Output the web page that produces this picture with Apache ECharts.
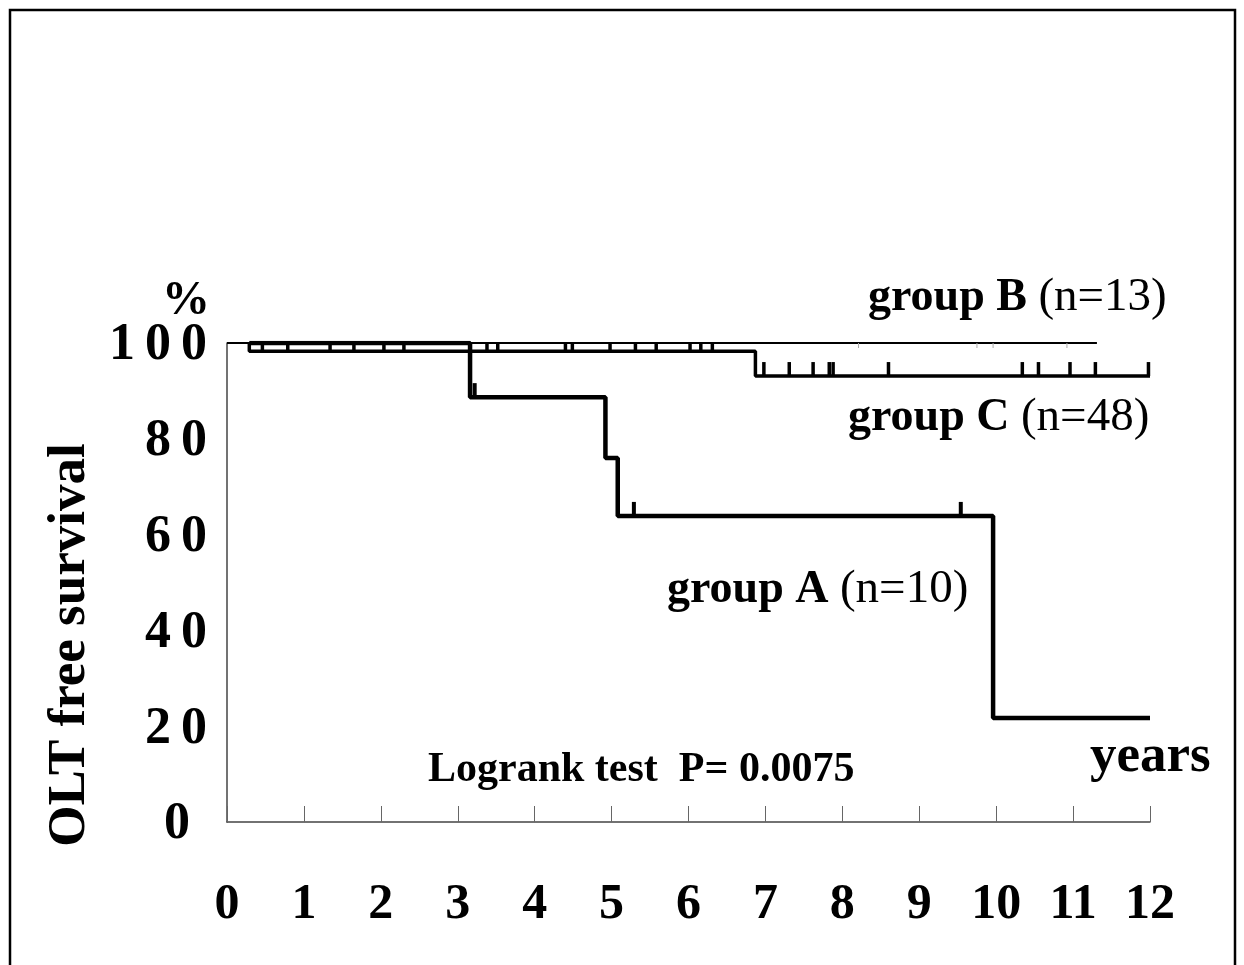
<!DOCTYPE html>
<html>
<head>
<meta charset="utf-8">
<script src="https://cdn.jsdelivr.net/npm/echarts@6/dist/echarts.min.js"></script>
<style>
html,body{margin:0;padding:0;background:#fff;}
#chart{width:1244px;height:965px;}
</style>
</head>
<body>
<div id="chart"></div>
<script>
// ---- data ----
const xTicks = [0,1,2,3,4,5,6,7,8,9,10,11,12];
const yTicks = [0,20,40,60,80,100];

const groupA_t = [0.29, 3.16, 4.92, 5.08, 9.96, 12];
const groupA_s = [100, 88.7, 76.0, 63.9, 21.7, 21.7];
const groupA_censor_t = [3.22, 5.29, 9.54];
const groupA_censor_s = [88.7, 63.9, 63.9];

const groupB_t = [0, 11.31];
const groupB_s = [100, 100];
const groupB_censor_t = [8.21, 9.75, 9.96, 10.92];
const groupB_censor_s = [100, 100, 100, 100];

const groupC_t = [0.29, 0.29, 6.87, 12];
const groupC_s = [100, 98.3, 93.1, 93.1];
const groupC_censor1_t = [0.46, 0.79, 1.34, 1.65, 2.04, 2.30, 3.38, 3.52, 4.40, 4.49, 4.98, 5.31, 5.58, 6.02, 6.16, 6.31];
const groupC_censor2_t = [6.98, 7.31, 7.62, 7.83, 7.88, 8.60, 10.34, 10.55, 10.96, 11.29, 11.98];
const groupC_level1 = 98.3;
const groupC_level2 = 93.1;

const labelA = ['group A', '(n=10)'];
const labelB = ['group B', '(n=13)'];
const labelC = ['group C', '(n=48)'];
const yName = 'OLT free survival';
const pText = 'Logrank test  P= 0.0075';
const xName = 'years';
const yUnit = '%';

// ---- build ----
const zip = (a, b) => a.map((v, i) => [v, b[i]]);
const SERIF = '"Liberation Serif", "Times New Roman", serif';

function censorSeries(data, h, w, color, dir) {
  return {
    type: 'custom',
    data: data,
    silent: true,
    animation: false,
    z: 5,
    renderItem: function (params, api) {
      const p = api.coord([api.value(0), api.value(1)]);
      return {
        type: 'line',
        shape: { x1: p[0], y1: p[1], x2: p[0], y2: p[1] - dir * h },
        style: { stroke: color, lineWidth: w }
      };
    }
  };
}

const chart = echarts.init(document.getElementById('chart'), null, { renderer: 'canvas' });

function groupText(parts, x, y) {
  return {
    type: 'text',
    x: x, y: y,
    style: {
      text: '{b|' + parts[0] + ' }{r|' + parts[1] + '}',
      verticalAlign: 'middle',
      rich: {
        b: { fontFamily: SERIF, fontWeight: 'bold', fontSize: 46, fill: '#000', color: '#000' },
        r: { fontFamily: SERIF, fontWeight: 'normal', fontSize: 47, fill: '#000', color: '#000' }
      }
    }
  };
}

const option = {
  backgroundColor: '#fff',
  animation: false,
  grid: { left: 227, right: 94, top: 343, bottom: 143 },
  xAxis: {
    type: 'value',
    min: 0, max: 12, interval: 1,
    axisLine: { show: true, lineStyle: { color: '#444', width: 1.5 } },
    axisTick: { show: true, inside: true, length: 16, lineStyle: { color: '#666', width: 1 } },
    splitLine: { show: false },
    axisLabel: {
      margin: 58,
      fontFamily: SERIF, fontWeight: 'bold', fontSize: 50, color: '#000',
      formatter: function (v) { return xTicks.indexOf(v) >= 0 ? String(v) : ''; }
    }
  },
  yAxis: {
    type: 'value',
    min: 0, max: 100, interval: 20,
    axisLine: { show: true, lineStyle: { color: '#444', width: 1.5 } },
    axisTick: { show: false },
    splitLine: { show: false },
    axisLabel: {
      margin: 15,
      formatter: function (v) {
        if (yTicks.indexOf(v) < 0) return '';
        if (v === 0) return '{z|0}';
        return String(v).split('').map(c => '{d|' + c + '}').join('');
      },
      rich: {
        d: { fontFamily: SERIF, fontWeight: 'bold', fontSize: 52, color: '#000', padding: [6, 5, 0, 5] },
        z: { fontFamily: SERIF, fontWeight: 'bold', fontSize: 52, color: '#000', padding: [6, 22, 0, 0] }
      }
    }
  },
  series: [
    { type: 'line', data: zip(groupB_t, groupB_s), showSymbol: false, step: 'end',
      lineStyle: { color: '#000', width: 2 }, z: 3 },
    { type: 'line', data: zip(groupC_t, groupC_s), showSymbol: false, step: 'end',
      lineStyle: { color: '#000', width: 3.5 }, z: 4 },
    { type: 'line', data: zip(groupA_t, groupA_s), showSymbol: false, step: 'end',
      lineStyle: { color: '#000', width: 4.5 }, z: 4 },
    censorSeries(groupC_censor1_t.map(t => [t, groupC_level1]), 8, 3.5, '#000', 1),
    censorSeries(groupC_censor2_t.map(t => [t, groupC_level2]), 14, 3.5, '#000', 1),
    censorSeries(zip(groupA_censor_t, groupA_censor_s), 14, 4, '#000', 1),
    censorSeries(zip(groupB_censor_t, groupB_censor_s), 5, 1, '#aaa', -1)
  ],
  graphic: [
    { type: 'rect', shape: { x: 10, y: 10, width: 1225, height: 970 },
      style: { fill: 'none', stroke: '#000', lineWidth: 2.5 }, silent: true },
    { type: 'text', x: 162, y: 302,
      style: { text: yUnit, fontFamily: SERIF, fontWeight: 'bold', fontSize: 48, fill: '#000', verticalAlign: 'middle' } },
    groupText(labelB, 868, 298),
    groupText(labelC, 848, 418),
    groupText(labelA, 667, 590),
    { type: 'text', x: 428, y: 770,
      style: { text: pText, fontFamily: SERIF, fontWeight: 'bold', fontSize: 42, fill: '#000', verticalAlign: 'middle' } },
    { type: 'text', x: 1090, y: 757,
      style: { text: xName, fontFamily: SERIF, fontWeight: 'bold', fontSize: 53, fill: '#000', verticalAlign: 'middle' } },
    { type: 'text', x: 70, y: 645, rotation: Math.PI / 2,
      style: { text: yName, fontFamily: SERIF, fontWeight: 'bold', fontSize: 53, fill: '#000', align: 'center', verticalAlign: 'middle' } }
  ]
};
chart.setOption(option);
</script>
</body>
</html>
